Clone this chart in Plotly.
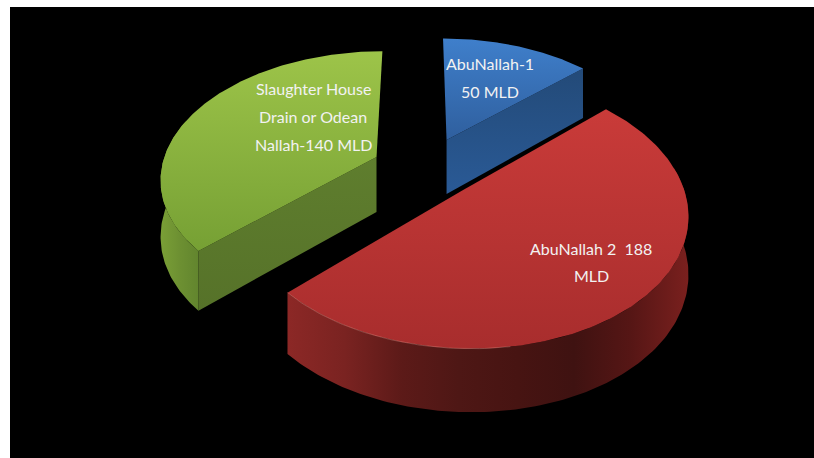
import numpy as np
import plotly.graph_objects as go

categories = ["AbuNallah-1", "AbuNallah 2", "Slaughter House Drain or Odean Nallah"]
values = [50, 188, 140]
label_lines = [["AbuNallah-1", "50 MLD"],
               ["AbuNallah 2  188", "MLD"],
               ["Slaughter House", "Drain or Odean", "Nallah-140 MLD"]]

# presentation: projection of the tilted pie, explosion offsets, colours
CX, CY, RX, RY, K = 420, 175, 217, 128, 0.16
explode = [(0.128, 0.286), (0.195, -0.115), (-0.205, 0.144)]
top_scale = [["#2f5f9e", "#3f7fcb"], ["#a82d2d", "#c93b39"], ["#76a034", "#9dc449"]]
inner_scale = [["#2a5a96", "#234a78"], None, ["#567229", "#5f7e2e"]]
outer_scale = [None,
               ["#8c2826", "#7a2321", "#5c1a18", "#4e1715", "#471412", "#3f1211", "#561615", "#7a201e"],
               ["#7a9f36", "#6d9032", "#62852e"]]
edge_color = [None, "rgba(235,160,150,0.35)", None]
label_xy = [(490, 64, 28), (591, 248, 27), (313, 89, 27.5)]


def project(X, Y):
    d = 1 + K * Y
    return CX + RX * X / d, CY - RY * Y / d


def depth(Y):
    return 56 * (1 - 0.12 * Y)


def area(fig, xs, ys, scale, kind):
    n = len(scale) - 1
    fig.add_trace(go.Scatter(
        x=xs, y=ys, mode="lines", fill="toself", line=dict(width=0), hoverinfo="skip",
        fillgradient=dict(type=kind, colorscale=[[i / n, c] for i, c in enumerate(scale)]),
    ))


fracs = np.cumsum([0] + values) / sum(values) * 2 * np.pi
fig = go.Figure()
for i in [0, 2, 1]:
    a0, a1 = fracs[i], fracs[i + 1]
    ox, oy = explode[i]
    t = np.linspace(a0, a1, 160)
    arcX, arcY = ox + np.sin(t), oy + np.cos(t)
    topx, topy = project(arcX, arcY)
    ax, ay = project(ox, oy)

    # inner wall on the near side of the slice, from apex to its exposed edge
    if inner_scale[i]:
        ex, ey = (arcX[-1], arcY[-1]) if i == 0 else (arcX[0], arcY[0])
        px, py = project(np.array([ox, ex]), np.array([oy, ey]))
        d = depth(np.array([oy, ey]))
        area(fig, [px[0], px[1], px[1], px[0], px[0]],
             [py[0], py[1], py[1] + d[1], py[0] + d[0], py[0]], inner_scale[i], "vertical")

    # outer wall, the part of the rim facing the viewer
    if outer_scale[i]:
        mask = t >= np.pi * 0.44 if i == 1 else t <= np.pi * 1.6
        mx, my = topx[mask], topy[mask]
        dm = depth(arcY[mask])
        area(fig, np.r_[mx, mx[::-1], mx[0]], np.r_[my, (my + dm)[::-1], my[0]],
             outer_scale[i], "horizontal")

    # top face
    area(fig, np.r_[ax, topx, ax], np.r_[ay, topy, ay], top_scale[i], "vertical")

    # faint highlight on the front rim
    if edge_color[i]:
        front = t >= np.pi * 0.95
        fig.add_trace(go.Scatter(x=topx[front], y=topy[front], mode="lines", hoverinfo="skip",
                                 line=dict(color=edge_color[i], width=1)))

for lines, (lx, ly, step) in zip(label_lines, label_xy):
    for j, line in enumerate(lines):
        fig.add_annotation(x=lx, y=ly + j * step, text=line, showarrow=False, xanchor="center",
                           yanchor="middle", font=dict(family="Lato", size=16, color="#f2f2f2"))

fig.update_layout(
    width=814, height=458, margin=dict(l=0, r=0, t=0, b=0),
    paper_bgcolor="white", plot_bgcolor="black", showlegend=False,
    xaxis=dict(domain=[10 / 814, 1], range=[10, 814], visible=False, fixedrange=True),
    yaxis=dict(domain=[0, 1 - 7 / 458], range=[458, 7], visible=False, fixedrange=True),
)
fig.write_html("out.html", config={"displayModeBar": False},
               post_script="document.body.style.margin='0';document.documentElement.style.overflow='hidden';")
